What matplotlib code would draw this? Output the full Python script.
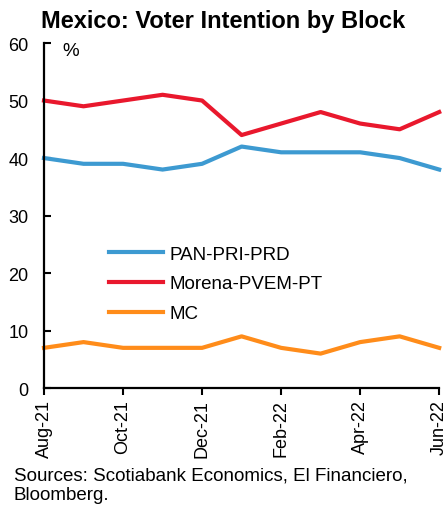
import matplotlib.pyplot as plt

plt.rcParams['font.family'] = ['Liberation Sans', 'DejaVu Sans']

months = ['Aug-21', 'Sep-21', 'Oct-21', 'Nov-21', 'Dec-21', 'Jan-22',
          'Feb-22', 'Mar-22', 'Apr-22', 'May-22', 'Jun-22']
pan_pri_prd = [40, 39, 39, 38, 39, 42, 41, 41, 41, 40, 38]
morena = [50, 49, 50, 51, 50, 44, 46, 48, 46, 45, 48]
mc = [7, 8, 7, 7, 7, 9, 7, 6, 8, 9, 7]

fig = plt.figure(figsize=(4.46, 5.06), dpi=100)
ax = fig.add_axes([0.0987, 0.231, 0.886, 0.682])

x = range(len(months))
ax.plot(x, pan_pri_prd, color='#3d9ad1', lw=3, label='PAN-PRI-PRD', clip_on=False)
ax.plot(x, morena, color='#e9182d', lw=3, label='Morena-PVEM-PT', clip_on=False)
ax.plot(x, mc, color='#ff8c1a', lw=3, label='MC', clip_on=False)

ax.set_xlim(0, len(months) - 1)
ax.set_ylim(0, 60)
ax.set_yticks(range(0, 61, 10))
ax.set_xticks(list(x)[::2])
ax.set_xticklabels(months[::2], rotation=90)
ax.tick_params(axis='y', direction='in', length=5, width=1.5, labelsize=13, pad=11)
ax.tick_params(axis='x', direction='out', length=5, width=1.5, labelsize=13, pad=3)
for s in ['top', 'right']:
    ax.spines[s].set_visible(False)
for s in ['left', 'bottom']:
    ax.spines[s].set_linewidth(1.6)

ax.text(0.046, 0.978, '%', transform=ax.transAxes, fontsize=13.5, va='center')

ax.legend(loc='center left', bbox_to_anchor=(0.122, 0.302), frameon=False,
          fontsize=13.5, handlelength=2.9, handletextpad=0.3, labelspacing=0.68)

fig.suptitle('Mexico: Voter Intention by Block', fontsize=17, fontweight='bold',
             x=0.5, y=0.958, va='center')
fig.text(0.031, 0.076, 'Sources: Scotiabank Economics, El Financiero,\nBloomberg.',
         fontsize=13.5, va='top', linespacing=1.2)

fig.savefig('out.png', dpi=100)
